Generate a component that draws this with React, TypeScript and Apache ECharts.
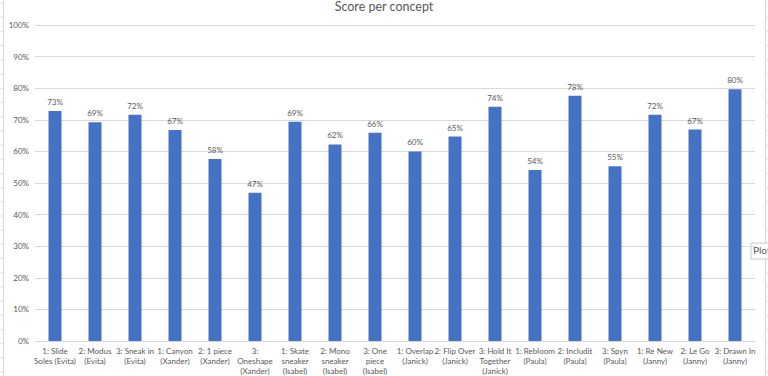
import React, { useEffect, useRef } from "react";
import * as echarts from "echarts";

const categories = [
  "1: Slide\nSoles (Evita)",
  "2: Modus\n(Evita)",
  "3: Sneak in\n(Evita)",
  "1: Canyon\n(Xander)",
  "2: 1 piece\n(Xander)",
  "3:\nOneshape\n(Xander)",
  "1: Skate\nsneaker\n(Isabel)",
  "2: Mono\nsneaker\n(Isabel)",
  "3: One\npiece\n(Isabel)",
  "1: Overlap\n(Janick)",
  "2: Flip Over\n(Janick)",
  "3: Hold It\nTogether\n(Janick)",
  "1: Rebloom\n(Paula)",
  "2: Includit\n(Paula)",
  "3: Spyn\n(Paula)",
  "1: Re New\n(Janny)",
  "2: Le Go\n(Janny)",
  "3: Drawn In\n(Janny)",
];

const scores = [
  0.728, 0.692, 0.716, 0.668, 0.576, 0.469, 0.694, 0.622, 0.659, 0.6, 0.647,
  0.741, 0.541, 0.776, 0.553, 0.716, 0.669, 0.797,
];

const titleText = "Score per concept";

export default function App() {
  const ref = useRef<HTMLDivElement>(null);
  useEffect(() => {
    if (!ref.current) return;
    const chart = echarts.init(ref.current, null, { renderer: "svg" });
    const font = "Lato, 'Open Sans', sans-serif";
    const sheetLines: any[] = [];
    for (let y = 3; y < 376; y += 14.2) {
      sheetLines.push({
        type: "line",
        shape: { x1: 765, y1: y, x2: 768, y2: y },
        style: { stroke: "#E3E3E3", lineWidth: 1 },
        silent: true,
      });
      sheetLines.push({
        type: "line",
        shape: { x1: 0, y1: y, x2: 3, y2: y },
        style: { stroke: "#E3E3E3", lineWidth: 1 },
        silent: true,
      });
    }
    chart.setOption({
      animation: false,
      backgroundColor: "#FFFFFF",
      textStyle: { fontFamily: font },
      title: {
        text: titleText,
        left: "center",
        top: 0,
        padding: 0,
        textStyle: {
          fontFamily: font,
          fontSize: 12.5,
          fontWeight: "normal",
          color: "#595959",
        },
      },
      grid: { left: 35, right: 13, top: 25, bottom: 31, containLabel: false },
      xAxis: {
        type: "category",
        data: categories,
        axisTick: { show: false },
        axisLine: { lineStyle: { color: "#D9D9D9" } },
        axisLabel: {
          interval: 0,
          fontSize: 8,
          lineHeight: 10,
          color: "#595959",
          margin: 5,
          fontFamily: font,
        },
      },
      yAxis: {
        type: "value",
        min: 0,
        max: 1,
        interval: 0.1,
        axisLine: { show: false },
        axisTick: { show: false },
        splitLine: { lineStyle: { color: "#D9D9D9" } },
        axisLabel: {
          fontSize: 8,
          color: "#595959",
          margin: 6,
          fontFamily: font,
          formatter: (v: number) => Math.round(v * 100) + "%",
        },
      },
      series: [
        {
          type: "bar",
          data: scores,
          barWidth: 13,
          itemStyle: { color: "#4472C4" },
          label: {
            show: true,
            position: "top",
            distance: 5,
            fontSize: 8,
            color: "#595959",
            fontFamily: font,
            formatter: (p: any) => Math.round(p.value * 100) + "%",
          },
        },
      ],
      graphic: [
        {
          type: "line",
          shape: { x1: 765.5, y1: 0, x2: 765.5, y2: 376 },
          style: { stroke: "#D6D6D6", lineWidth: 1 },
          silent: true,
        },
        {
          type: "line",
          shape: { x1: 3.5, y1: 0, x2: 3.5, y2: 376 },
          style: { stroke: "#D6D6D6", lineWidth: 1 },
          silent: true,
        },
        ...sheetLines,
        {
          type: "rect",
          shape: { x: 751, y: 243, width: 20, height: 16 },
          style: { fill: "#FFFFFF", stroke: "#C8C8C8", lineWidth: 1 },
          silent: true,
        },
        {
          type: "text",
          x: 753,
          y: 245,
          style: {
            text: "Plot",
            fontSize: 10,
            fill: "#595959",
            fontFamily: font,
          },
          silent: true,
        },
      ],
    });
    return () => chart.dispose();
  }, []);
  return (
    <div
      ref={ref}
      style={{ position: "fixed", left: 0, top: 0, width: 768, height: 376 }}
    />
  );
}
